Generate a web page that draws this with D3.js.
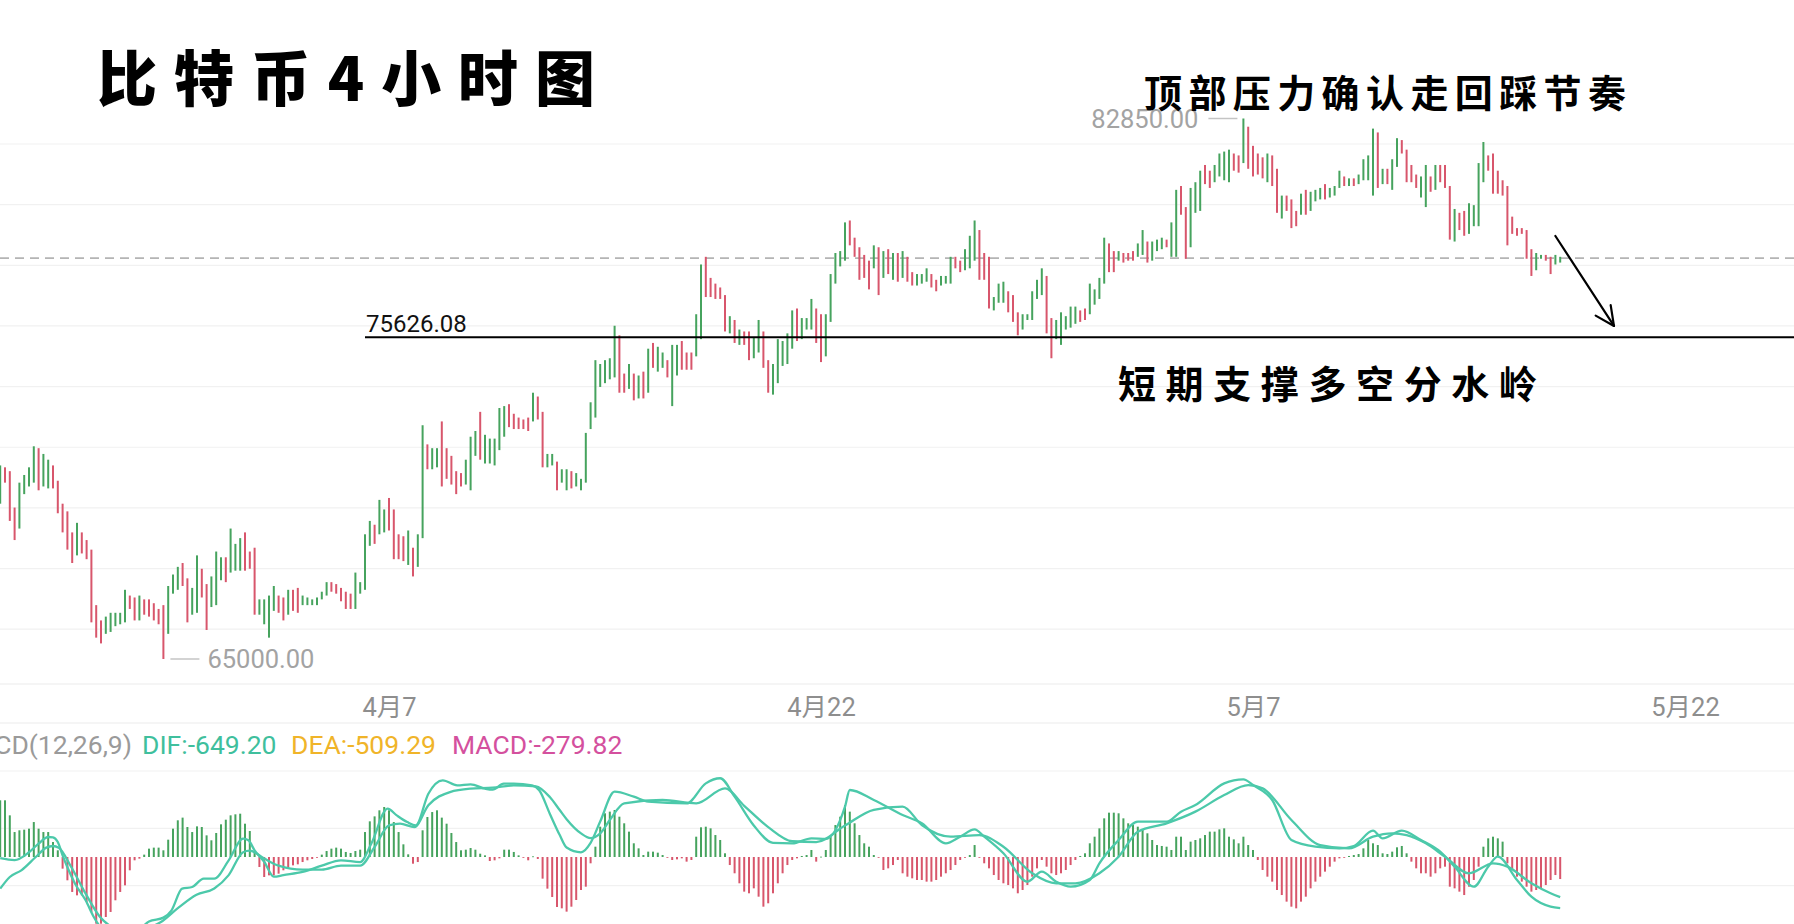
<!DOCTYPE html>
<html><head><meta charset="utf-8">
<script src="https://cdn.jsdelivr.net/npm/d3@7"></script>
<style>
html,body{margin:0;padding:0;background:#fff;}
svg{display:block;}
</style></head>
<body>
<svg id="chart" width="1794" height="924"></svg>
<script>
// ---------------- DATA ----------------
const highs = [71393,71330,71203,70002,70824,71077,71330,72025,71962,71772,
71582,71393,70887,70129,69876,69181,69497,69181,68928,68612,
66779,66274,66400,66526,66526,66526,67285,67095,67032,67095,
66969,66969,66842,66653,66779,67411,67790,68043,68170,67664,
67348,68422,67980,67474,67727,68549,68359,68359,69308,68802,
68992,69181,68549,68675,66969,66969,67095,67411,67095,67032,
67285,67285,67348,67095,67032,66969,67032,67222,67538,67538,
67474,67348,67222,67158,67854,67538,69118,69560,69434,70255,
69939,70318,69939,69118,69054,69244,68675,69118,72720,72088,
71962,71962,72846,71962,71709,71203,71140,71582,72341,72530,
73162,72404,72278,72278,73289,73352,73415,73099,72973,72910,
72973,73794,73668,73162,71772,71772,71519,71266,71266,71203,
71140,70950,72467,73478,74869,
74742,74869,74932,76006,75690,74426,74742,74426,74363,74490,
75248,75438,75311,75122,74869,75374,75374,75501,75122,75122,
76386,78029,78282,77586,77397,77270,77018,76322,76196,75880,
75817,75817,75627,76196,75817,74869,74742,75564,75501,75754,
76512,76575,76259,76259,76891,76575,76386,76386,77713,78408,
78471,79419,79482,78914,78598,78345,78155,78661,78598,78471,
78534,78408,78408,78471,78282,77776,77713,77713,77902,77713,
77523,77650,77650,78282,78282,78155,78534,78977,79482,79166,
78408,78282,76954,77397,77460,77144,77018,76449,76386,76386,
77144,77523,77902,77650,76259,76196,76449,76322,76638,76638,
76512,76575,77397,77207,77586,78914,78724,78471,78471,78408,
78408,78471,78724,79166,78787,
78787,78850,78914,78850,79419,80494,80620,79925,80557,80746,
81126,81315,81126,81315,81694,81758,81821,81694,81631,82850,
82579,81947,81694,81568,81694,81631,81189,80304,80304,80178,
79798,80367,80494,80430,80494,80557,80683,80557,80620,81126,
80936,80873,80873,80999,81505,81631,82516,82390,81189,81189,
81505,82200,82137,81821,81315,80999,80936,81315,80936,81315,
81315,81315,80620,79862,79735,79798,80051,79988,81378,82074,
81631,81694,81126,80810,80620,79609,79230,79230,79166,78534,
78408,78345,78345,78282,78345,78282];

const lows = [70129,70824,69560,68928,69308,70445,70698,70824,70571,70698,
70634,70634,69813,69181,68612,68170,68422,68486,68296,66210,
65705,65515,65831,65894,66084,66147,66210,66653,66274,66274,
66463,66400,66274,66147,65000,65831,67158,67285,67411,66210,
66463,66526,67032,65958,66716,66779,67601,67538,67854,67917,
67917,67917,67980,66463,66463,66147,65705,66590,66526,66274,
66463,66590,66526,66779,66779,66779,66779,66969,67095,67222,
67158,66906,66653,66653,66653,67158,67285,68738,68802,69118,
69181,69244,68296,68296,68233,68106,67727,68043,68991,71266,
71266,71330,70698,70950,70761,70445,70698,70761,70571,71709,
71582,71456,71456,71393,71898,72341,72657,72594,72594,72594,
72530,72846,72910,71330,71330,71393,70571,70824,70571,70634,
70698,70571,70824,72594,72973,
73984,74110,74237,74300,73794,73794,73921,73542,73605,73605,
73794,74616,74490,74616,74300,73352,74363,74553,74553,74553,
74995,75564,76954,76954,76891,76891,75817,75754,75438,75374,
75374,74869,74932,75122,74616,73794,73731,74110,74679,74742,
75248,75501,75564,75880,75880,75438,74806,74995,76133,77397,
77966,78155,78661,78282,77523,77586,77207,77902,77018,77586,
77713,77523,77460,77586,77460,77334,77334,77397,77460,77270,
77144,77334,77397,77397,77902,77776,77839,77902,78155,77523,
77523,76575,76512,76765,76765,76449,76133,75690,75880,76196,
76196,76891,77018,75754,74932,75564,75374,75880,75943,76070,
76133,76196,76386,76702,76891,77397,77776,77776,78155,78092,
78155,78155,78282,78345,78092,
78155,78471,78534,78598,78282,78282,79672,78218,78598,79735,
79798,80683,80557,80746,80936,80810,80746,81126,81062,81378,
81189,80936,80999,80873,80746,80620,79735,79546,79798,79230,
79293,79672,79672,79798,80114,80178,80178,80241,80304,80557,
80620,80620,80620,80683,80810,80810,80304,80557,80683,80683,
80494,81252,81694,80746,80746,80557,80241,79925,80430,80494,
80746,80557,78850,78787,79166,78977,79040,79293,79293,80746,
81126,80367,80367,80304,78661,79040,78977,79040,78218,77650,
77839,78218,78155,77713,78029,78092];

// u = rising bar (green), d = falling bar (red)
const barDir = ("uddduuuudu"+"uddddduddd"+"dduuuuuddu"+"ddddduuudd"+"uudduuuduu"+
"uddduuuudd"+"udduuuuuud"+"dddduuuudu"+"udddduduud"+"uuddddduuu"+"duuuuudddd"+
"dudduuduud"+"uuuuu"+"uuuuddudud"+"uduuduuddd"+"uudddddudu"+"dduudduuuu"+
"uduuudduuu"+"uudddddudu"+"dududduuud"+"duuudduuud"+"dduuuddduu"+"uuudduuuuu"+
"dduuuuddud"+"dduud"+"uuuduudduu"+"udduuuuddu"+"dddduddudd"+"duduuuduuu"+
"duduuuudud"+"uudddduudu"+"dddudduuuu"+"dddddddddd"+"uudduu").split("");

const macdHist = [720,720,529,317,339,347,360,444,360,317,317,190,85,-148,-296,-444,-487,-487,-571,-698,
-847,-847,-762,-698,-550,-444,-360,-169,-42,-21,30,106,119,119,85,220,360,466,500,381,
317,389,381,275,212,305,415,474,529,542,550,423,330,64,-127,-254,-233,-233,-212,-169,
-127,-106,-93,-64,-42,-25,-8,30,76,106,119,106,64,51,76,93,317,453,516,593,
635,593,444,317,161,34,-85,-64,339,508,571,593,500,423,305,190,85,93,114,93,
42,21,-51,-42,-17,93,93,64,21,-8,-42,8,-25,-275,-402,-508,-635,-652,-694,-631,
-546,-419,-377,-80,131,385,555,576,597,512,428,322,174,110,25,68,68,55,25,-4,
-38,-30,-17,-59,-38,258,377,385,364,279,216,47,-102,-207,-334,-440,-461,-398,-504,-631,
-588,-461,-334,-207,-102,-38,-17,13,25,89,-59,4,89,258,406,512,660,576,428,279,
174,131,25,-4,-165,-144,-102,-38,-207,-250,-271,-292,-292,-313,-313,-292,-250,-207,-165,-102,
-38,-4,25,152,-4,-80,-144,-229,-292,-334,-356,-398,-461,-419,-356,-250,-144,-38,-123,-207,
-229,-207,-165,-102,-38,13,47,174,258,364,491,563,563,555,491,428,406,385,343,301,
216,152,140,131,89,258,258,89,195,216,237,279,322,322,351,364,258,224,174,258,
152,89,-38,-165,-250,-313,-419,-483,-567,-631,-652,-567,-504,-398,-313,-250,-186,-123,-59,-17,
-4,13,25,38,110,216,174,152,47,38,68,123,140,47,-59,-144,-207,-207,-250,-207,
-144,-123,-377,-398,-440,-483,-377,-292,-123,131,237,258,237,195,-80,-165,-250,-313,-377,-440,
-419,-398,-356,-292,-229,-279.82];

// DIF / DEA read at sample bars: [bar index, value]
const difPts = [[0,-15],[3,-40],[6,60],[8,170],[10,254],[11,250],[12,190],[13,20],[14,-130],[15.6,-339],
[17.8,-550],[19.5,-762],[21,-900],[23,-1000],[25,-1030],[27,-1000],[29,-920],[31,-820],[34,-770],[35.7,-677],
[37.9,-402],[40,-381],[42.4,-275],[44.6,-275],[47.6,-42],[50.6,233],[51.7,212],[53,85],[55,-60],[57,-250],
[59,-230],[63,-190],[67,-110],[71,-42],[75,-64],[77.3,169],[80.7,614],[82.6,529],[84.8,444],[86.6,402],
[89.2,804],[92.2,974],[95.2,910],[98,923],[101,868],[102.6,855],[104.9,931],[107,931],[110.8,910],[112.3,847],
[114.5,550],[116.6,275],[118,120],[121,60],[123,180],[125,450],[128,830],[132,766],[135,703],[143,681],
[147,935],[150,1000],[153,766],[157,400],[161,180],[165,174],[169,237],[172,230],[176,639],[177,851],
[182,724],[188,533],[192,428],[197,174],[200,258],[203,351],[205,258],[209,47],[214,-313],[217,-186],
[220,-313],[223,-377],[227,-292],[229,-80],[233,216],[237,449],[243,449],[246,576],[249,660],[255,935],
[259,986],[261,914],[265,724],[269,216],[274,131],[279,110],[282,140],[286,334],[288,237],[292,334],
[296,216],[300,68],[303,-123],[307,-377],[310,-123],[312,4],[316,-292],[319,-504],[323,-631],[325,-649.20]];

const deaPts = [[0,-402],[2,-254],[4.4,-169],[7.4,0],[9.6,119],[11,140],[12.2,119],[14.8,-127],[17.8,-466],[20.8,-762],
[23,-880],[26,-960],[29,-960],[31,-900],[33.4,-830],[37.2,-640],[40.9,-480],[44.6,-400],[47.6,-230],[50.6,60],
[52,80],[55,-20],[58,-110],[63,-160],[67,-160],[71,-110],[75,-110],[78,127],[81,402],[83.3,423],
[86.3,381],[89.2,656],[93.7,825],[98,868],[102.6,880],[107,910],[111.6,897],[114.5,762],[116.6,593],[118,480],
[121,300],[123,240],[125,300],[127,470],[130,681],[138,724],[145,681],[151,872],[155,650],[160,380],
[165,200],[170,190],[176,400],[182,600],[188,639],[192,406],[198,258],[204,279],[209,131],[215,-207],
[220,-334],[224,-334],[229,-207],[233,4],[237,322],[243,428],[249,576],[255,787],[260,914],[263,872],
[269,470],[275,152],[281,110],[286,258],[290,301],[293,279],[297,174],[301,4],[306,-207],[311,-80],
[314,-123],[319,-334],[323,-461],[325,-509.29]];

const tickDates = ["2024-04-07","2024-04-22","2024-05-07","2024-05-22"];
const firstBarTime = "2024-03-24T12:00:00Z";
const lastClose = 78240;
const supportPrice = 75626.08;
const supportStartBar = 76;
const arrowFrom = [324, 78970];
const arrowTo = [336.2, 76000];
const titleText = "比特币4小时图";
const noteTop = "顶部压力确认走回踩节奏";
const noteSupport = "短期支撑多空分水岭";

// ---------------- CHART ----------------
const W = 1794, H = 924;
const GREEN = "#46a35e", RED = "#d8566c", TEAL = "#4cc9aa";
const NUMFONT = "Roboto, 'Noto Sans CJK SC', sans-serif";
const CJK = "'Noto Sans CJK SC', sans-serif";
const svg = d3.select("#chart");
const HOUR = 3600e3;
const t0 = new Date(firstBarTime).getTime();
const barTime = i => new Date(t0 + i * 4 * HOUR);

const x = d3.scaleUtc().domain([barTime(0), barTime(373.75)]).range([0.2, 0.2 + 4.8 * 373.75]);
const bx = i => x(barTime(i));
const y = d3.scaleLinear().domain([65000, 82850]).range([659, 118.5]);
const ym = d3.scaleLinear().domain([-1000, 1000]).range([857 + 1000 / 12.7, 857 - 1000 / 12.7]);

// grid
const grid = svg.append("g");
d3.range(1, 10).forEach(k => {
  const gy = 83.35 + k * 60.65;
  grid.append("line").attr("x1", 0).attr("x2", W).attr("y1", gy).attr("y2", gy)
    .attr("stroke", "#f1f1f1").attr("stroke-width", 1.2);
});
[684, 723].forEach(gy => grid.append("line").attr("x1", 0).attr("x2", W).attr("y1", gy).attr("y2", gy)
  .attr("stroke", "#ececec").attr("stroke-width", 1.2));
[771, 828.3, 885.7].forEach(gy => grid.append("line").attr("x1", 0).attr("x2", W).attr("y1", gy).attr("y2", gy)
  .attr("stroke", "#f1f1f1").attr("stroke-width", 1.2));

// current price dashed line
svg.append("line").attr("x1", 0).attr("x2", W).attr("y1", y(lastClose)).attr("y2", y(lastClose))
  .attr("stroke", "#b4b4b4").attr("stroke-width", 1.6).attr("stroke-dasharray", "9,6");

// price bars
const bars = highs.map((h, i) => ({ i, h, l: lows[i], up: barDir[i] === "u" }));
svg.append("g").selectAll("rect").data(bars).join("rect")
  .attr("x", d => bx(d.i) - 1).attr("width", 2)
  .attr("y", d => y(d.h)).attr("height", d => Math.max(1, y(d.l) - y(d.h)))
  .attr("fill", d => d.up ? GREEN : RED);

// max / min markers
const iMax = d3.maxIndex(highs), iMin = d3.minIndex(lows);
const mk = svg.append("g").attr("font-family", NUMFONT).attr("font-size", 25.5).attr("fill", "#a3a3a3");
mk.append("line").attr("x1", bx(iMax) - 35).attr("x2", bx(iMax) - 6).attr("y1", y(highs[iMax])).attr("y2", y(highs[iMax]))
  .attr("stroke", "#c4c4c4").attr("stroke-width", 1.5);
mk.append("text").attr("x", bx(iMax) - 45).attr("y", y(highs[iMax])).attr("dy", "0.36em")
  .attr("text-anchor", "end").text(highs[iMax].toFixed(2));
mk.append("line").attr("x1", bx(iMin) + 7).attr("x2", bx(iMin) + 36).attr("y1", y(lows[iMin])).attr("y2", y(lows[iMin]))
  .attr("stroke", "#c4c4c4").attr("stroke-width", 1.5);
mk.append("text").attr("x", bx(iMin) + 44).attr("y", y(lows[iMin])).attr("dy", "0.36em")
  .text(lows[iMin].toFixed(2));

// support line
const sy = y(supportPrice);
svg.append("line").attr("x1", bx(supportStartBar)).attr("x2", W).attr("y1", sy).attr("y2", sy)
  .attr("stroke", "#000").attr("stroke-width", 2);
svg.append("text").attr("x", bx(supportStartBar) + 1).attr("y", sy - 5)
  .attr("font-family", NUMFONT).attr("font-size", 24).attr("fill", "#111").text(supportPrice.toFixed(2));

// arrow
const ax1 = bx(arrowFrom[0]), ay1 = y(arrowFrom[1]), ax2 = bx(arrowTo[0]), ay2 = y(arrowTo[1]);
const ang = Math.atan2(ay2 - ay1, ax2 - ax1);
const arrowG = svg.append("g").attr("stroke", "#000").attr("stroke-width", 2.2).attr("stroke-linecap", "round");
arrowG.append("line").attr("x1", ax1).attr("y1", ay1).attr("x2", ax2).attr("y2", ay2);
[-0.48, 0.42].forEach(da => {
  const a = ang + Math.PI + da;
  arrowG.append("line").attr("x1", ax2).attr("y1", ay2)
    .attr("x2", ax2 + 21 * Math.cos(a)).attr("y2", ay2 + 21 * Math.sin(a));
});

// x axis
const xAxis = d3.axisBottom(x)
  .tickValues(tickDates.map(s => new Date(s + "T00:00:00Z")))
  .tickFormat(d => `${d.getUTCMonth() + 1}月${d.getUTCDate()}`)
  .tickSize(0);
const gx = svg.append("g").attr("transform", "translate(0,707)").call(xAxis);
gx.select(".domain").remove();
gx.selectAll("text").attr("y", 0).attr("dy", "0.36em")
  .attr("font-family", NUMFONT).attr("font-size", 25.5).attr("fill", "#8e8e8e");

// MACD histogram
svg.append("g").selectAll("rect").data(macdHist).join("rect")
  .attr("x", (d, i) => bx(i) - 1).attr("width", 2)
  .attr("y", d => ym(Math.max(0, d))).attr("height", d => Math.max(0.8, Math.abs(ym(d) - ym(0))))
  .attr("fill", d => d >= 0 ? GREEN : RED);

// DIF / DEA lines
const line = d3.line().x(d => bx(d[0])).y(d => ym(d[1])).curve(d3.curveMonotoneX);
svg.append("defs").append("clipPath").attr("id", "mclip").append("rect")
  .attr("x", 0).attr("y", 724).attr("width", W).attr("height", 200);
const lg = svg.append("g").attr("clip-path", "url(#mclip)");
lg.append("path").attr("d", line(deaPts)).attr("fill", "none").attr("stroke", TEAL).attr("stroke-width", 2.3);
lg.append("path").attr("d", line(difPts)).attr("fill", "none").attr("stroke", TEAL).attr("stroke-width", 2.3);

// MACD legend
const leg = svg.append("g").attr("font-family", NUMFONT).attr("font-size", 26.5);
const lastDif = difPts[difPts.length - 1][1], lastDea = deaPts[deaPts.length - 1][1], lastM = macdHist[macdHist.length - 1];
leg.append("text").attr("x", 132).attr("y", 754).attr("text-anchor", "end").attr("fill", "#9a9a9a").text("MACD(12,26,9)");
leg.append("text").attr("x", 142).attr("y", 754).attr("fill", "#3fbf9d").text(`DIF:-${Math.abs(lastDif).toFixed(2)}`);
leg.append("text").attr("x", 291).attr("y", 754).attr("fill", "#f0b429").text(`DEA:-${Math.abs(lastDea).toFixed(2)}`);
leg.append("text").attr("x", 452).attr("y", 754).attr("fill", "#d4509e").text(`MACD:-${Math.abs(lastM).toFixed(2)}`);

// titles / notes
svg.append("text").attr("x", 97).attr("y", 101).attr("font-family", CJK).attr("font-weight", 900)
  .attr("font-size", 60).attr("textLength", 498).attr("lengthAdjust", "spacing").attr("fill", "#000").text(titleText);
svg.append("text").attr("x", 1144).attr("y", 107).attr("font-family", CJK).attr("font-weight", 700)
  .attr("font-size", 38).attr("textLength", 482).attr("lengthAdjust", "spacing").attr("fill", "#000").text(noteTop);
svg.append("text").attr("x", 1118).attr("y", 398).attr("font-family", CJK).attr("font-weight", 700)
  .attr("font-size", 38).attr("textLength", 419).attr("lengthAdjust", "spacing").attr("fill", "#000").text(noteSupport);
</script>
</body></html>
